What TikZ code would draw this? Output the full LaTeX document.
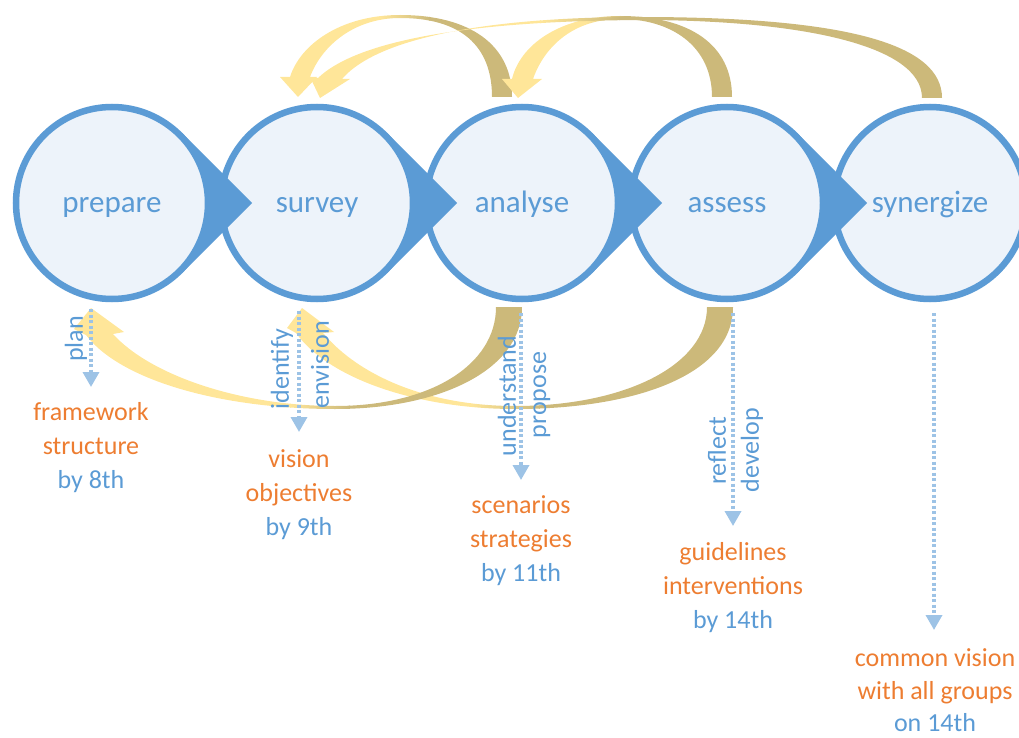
\documentclass[tikz,border=0pt]{standalone}
\usepackage{fontspec}
\setmainfont{Carlito}
\usetikzlibrary{arrows.meta}
\definecolor{cblue}{HTML}{5B9BD5}
\definecolor{cfill}{HTML}{EDF3FA}
\definecolor{corange}{HTML}{ED7D31}
\definecolor{cdot}{HTML}{9DC3E6}
\definecolor{ctan}{HTML}{CCB97A}
\definecolor{cyel}{HTML}{FFE699}
\newcommand\goldband[3]{%
  \begin{scope}
    \clip #1;
    \fill[cyel] (0,-5) rectangle (#2+1,745);
    \shade[left color=cyel,right color=ctan] (#2,-5) rectangle (#3,745);
    \fill[ctan] (#3-1,-5) rectangle (1030,745);
  \end{scope}}
\tikzset{
  stage/.style={circle, draw=cblue, line width=6.5pt, fill=cfill, minimum size=192pt,
    inner sep=0pt, text=cblue, font=\fontsize{31}{37}\selectfont, text height=25pt, text depth=7pt},
  chev/.style={fill=cblue},
  lab/.style={font=\fontsize{26}{31}\selectfont, anchor=base, inner sep=0pt},
  org/.style={lab, text=corange},
  blu/.style={lab, text=cblue},
  rot/.style={font=\fontsize{26}{31}\selectfont, text=cblue, rotate=90, inner sep=0pt},
  dotarrow/.style={draw=cdot, line width=3.5pt, dash pattern=on 3pt off 2.5pt,
    -{Triangle[width=16pt,length=15pt]}}
}
\begin{document}
\begin{tikzpicture}[x=1pt,y=-1pt]
\useasboundingbox (0,0) rectangle (1019,738);
\coordinate (c1) at (112,203);
\coordinate (c2) at (317,203);
\coordinate (c3) at (522,203);
\coordinate (c4) at (727,203);
\coordinate (c5) at (930,203);
% circles and chevrons, right to left
\node[stage] (synergize) at (c5) {synergize};
\fill[chev] (c4) -- +(70,-70) -- +(140,0) -- +(70,70) -- cycle;
\node[stage] (assess) at (c4) {assess};
\fill[chev] (c3) -- +(70,-70) -- +(140,0) -- +(70,70) -- cycle;
\node[stage] (analyse) at (c3) {analyse};
\fill[chev] (c2) -- +(70,-70) -- +(140,0) -- +(70,70) -- cycle;
\node[stage] (survey) at (c2) {survey};
\fill[chev] (c1) -- +(70,-70) -- +(140,0) -- +(70,70) -- cycle;
\node[stage] (prepare) at (c1) {prepare};
% top curved arrows
\goldband{(512,97) .. controls (512,45) and (470,15) .. (400,15) .. controls (340,15) and (300,45) .. (290,77) -- (280,77) -- (298,97) -- (317,77) -- (310,77) .. controls (322,45) and (355,18) .. (400,18) .. controls (460,18) and (492,45) .. (492,97) -- cycle}{380}{430}
\goldband{(732,97) .. controls (732,45) and (690,16) .. (620,16) .. controls (560,16) and (520,45) .. (512,79) -- (502,79) -- (518,98) -- (542,79) -- (533,79) .. controls (545,45) and (575,19) .. (620,19) .. controls (670,19) and (712,45) .. (712,97) -- cycle}{585}{625}
\goldband{(942,98) .. controls (942,45) and (850,17) .. (640,17) .. controls (500,17) and (380,35) .. (342,79) -- (350,79) -- (320,98) -- (310,77) -- (318,78) .. controls (360,38) and (480,21) .. (640,20) .. controls (800,20) and (922,45) .. (922,98) -- cycle}{540}{620}
% bottom curved arrows
\goldband{(733,307) .. controls (733,375) and (635,409) .. (515,409) .. controls (420,409) and (330,380) .. (296,333) -- (287,328) -- (302,308) -- (334,332) -- (323,333) .. controls (360,377) and (430,406) .. (515,406) .. controls (625,406) and (707,365) .. (707,307) -- cycle}{470}{540}
\goldband{(522,307) .. controls (522,370) and (440,409) .. (335,409) .. controls (220,409) and (120,380) .. (86,335) -- (74,329) -- (91,308) -- (124,332) -- (113,334) .. controls (150,375) and (240,406) .. (335,406) .. controls (430,406) and (496,365) .. (496,307) -- cycle}{290}{350}
% dotted arrows
\coordinate (d1s) at (91,309);  \coordinate (d1e) at (91,387);
\coordinate (d2s) at (299,311); \coordinate (d2e) at (299,432);
\coordinate (d3s) at (521,313); \coordinate (d3e) at (521,480);
\coordinate (d4s) at (733,313); \coordinate (d4e) at (733,526);
\coordinate (d5s) at (934,313); \coordinate (d5e) at (934,630);
\draw[dotarrow] (d1s) -- (d1e);
\draw[dotarrow] (d2s) -- (d2e);
\draw[dotarrow] (d3s) -- (d3e);
\draw[dotarrow] (d4s) -- (d4e);
\draw[dotarrow] (d5s) -- (d5e);
% rotated labels
\node[rot] (plan) at (76,339) {plan};
\node[rot] (identify) at (282,369) {identify};
\node[rot] (envision) at (320,365) {envision};
\node[rot] (understand) at (507,396) {understand};
\node[rot] (propose) at (542,395) {propose};
\node[rot] (reflect) at (717,451) {reflect};
\node[rot] (develop) at (752,450) {develop};
% result texts
\node[org] (t11) at (91,420) {framework};
\node[org] (t12) at (91,454) {structure};
\node[blu] (t13) at (91,488) {by 8th};
\node[org] (t21) at (299,467) {vision};
\node[org] (t22) at (299,501) {objectives};
\node[blu] (t23) at (299,535) {by 9th};
\node[org] (t31) at (521,513) {scenarios};
\node[org] (t32) at (521,547) {strategies};
\node[blu] (t33) at (521,581) {by 11th};
\node[org] (t41) at (733,560) {guidelines};
\node[org] (t42) at (733,594) {interventions};
\node[blu] (t43) at (733,628) {by 14th};
\node[org] (t51) at (935,666) {common vision};
\node[org] (t52) at (935,699) {with all groups};
\node[blu] (t53) at (935,731) {on 14th};
\end{tikzpicture}
\end{document}
